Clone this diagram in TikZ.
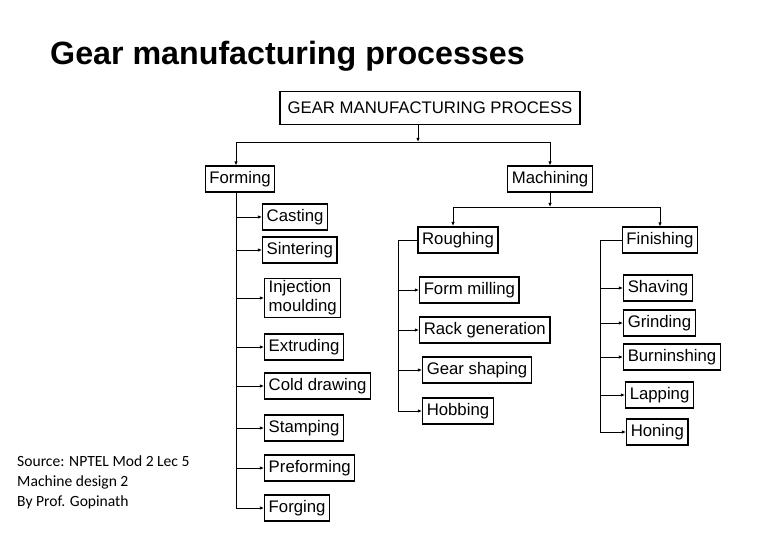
\documentclass[tikz,border=0pt]{standalone}
\usepackage{fontspec}
\setmainfont{Liberation Sans}
\newfontfamily\notefont{Carlito}
\usetikzlibrary{arrows.meta}

\tikzset{
    proc/.style={draw, line width=1.1pt, anchor=west,
                 font=\fontsize{14.3}{16.5}\selectfont,
                 inner xsep=3.5pt, inner ysep=2pt, minimum height=22pt},
    link/.style={line width=0.8pt, -{Latex[length=3.5pt,width=3pt]}}
}

\begin{document}
\begin{tikzpicture}[x=0.03cm, y=-0.03cm]
    \useasboundingbox (0,0) rectangle (765,543);

    \node[anchor=base west, inner sep=0pt,
          font=\fontsize{27.5}{30}\selectfont\bfseries] (title) at (50,65)
          {Gear manufacturing processes};

    \node[proc, anchor=center, inner xsep=6.5pt, minimum height=28pt] (gmp) at (430,108)
          {GEAR MANUFACTURING PROCESS};
    \node[proc, anchor=center] (form)  at (240,179) {Forming};
    \node[proc, anchor=center] (mach)  at (550,179) {Machining};
    \node[proc, anchor=center] (rough) at (458,240) {Roughing};
    \node[proc, anchor=center] (fin)   at (660,240) {Finishing};

    % forming
    \node[proc] (cast)  at (262,217) {Casting};
    \node[proc] (sint)  at (262,250) {Sintering};
    \node[proc, align=left] (inj) at (264,298) {Injection\\moulding};
    \node[proc] (extr)  at (264,347) {Extruding};
    \node[proc] (cold)  at (264,386) {Cold drawing};
    \node[proc] (stamp) at (264,428) {Stamping};
    \node[proc] (pref)  at (264,468) {Preforming};
    \node[proc] (forg)  at (264,508) {Forging};

    % roughing
    \node[proc] (mill) at (419,290) {Form milling};
    \node[proc] (rack) at (419,330) {Rack generation};
    \node[proc] (shap) at (422,370) {Gear shaping};
    \node[proc] (hobb) at (422,411) {Hobbing};

    % finishing
    \node[proc] (shav) at (623,288) {Shaving};
    \node[proc] (grin) at (623,323) {Grinding};
    \node[proc] (burn) at (623,357) {Burninshing};
    \node[proc] (lapp) at (625,395) {Lapping};
    \node[proc] (hone) at (626,432) {Honing};

    \coordinate (split)  at (418,142);
    \coordinate (msplit) at (550,207);
    \coordinate (fsp) at (236,192);
    \coordinate (rdrop) at (453,226);
    \coordinate (rsp) at (398,240);
    \coordinate (hsp) at (600,240);

    \draw[link] (gmp.south -| split) -- (split);
    \draw[link] (split) -| (form.north -| fsp);
    \draw[link] (split) -| (mach.north);
    \draw[link] (mach.south) -- (msplit);
    \draw[link] (msplit) -| (rdrop);
    \draw[link] (msplit) -| (fin.north);

    \foreach \n in {cast,sint,inj,extr,cold,stamp,pref,forg}
        \draw[link] (fsp) |- (\n.west);
    \foreach \n in {mill,rack,shap,hobb}
        \draw[link] (rough.west) -- (rsp) |- (\n.west);
    \foreach \n in {shav,grin,burn,lapp,hone}
        \draw[link] (fin.west) -- (hsp) |- (\n.west);

    \node[anchor=north west, align=left, inner sep=0pt,
          font=\notefont\fontsize{13.3}{17.4}\selectfont] (src) at (17,455)
          {Source: NPTEL Mod 2 Lec 5\\Machine design 2\\By Prof. Gopinath};
\end{tikzpicture}
\end{document}
